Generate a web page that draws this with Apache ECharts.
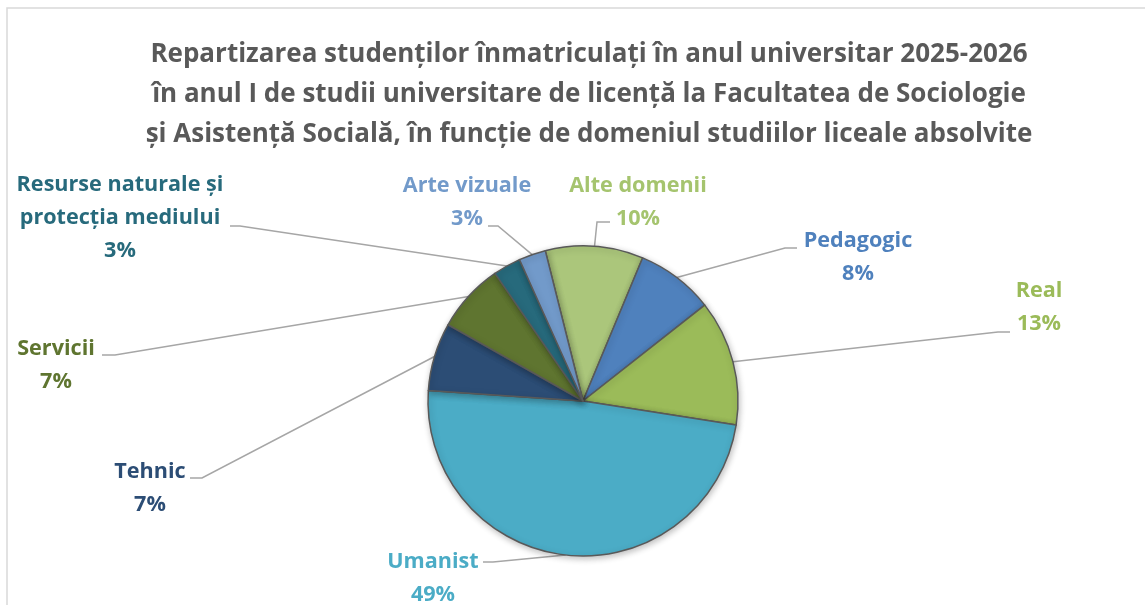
<!DOCTYPE html>
<html>
<head>
<meta charset="utf-8">
<script src="https://cdn.jsdelivr.net/npm/echarts@6/dist/echarts.min.js"></script>
<style>
  html, body { margin: 0; padding: 0; background: #fff; }
  #main { width: 1145px; height: 605px; }
</style>
</head>
<body>
<div id="main"></div>
<script>
  // categories, clockwise starting from the slice just left of 12 o'clock
  var categories = ['Alte domenii', 'Pedagogic', 'Real', 'Umanist', 'Tehnic', 'Servicii', 'Resurse naturale și\nprotecția mediului', 'Arte vizuale'];
  // share of enrolled students, percent
  var shares = [10.2, 8.1, 13.1, 48.6, 7.1, 7.2, 2.9, 2.8];
  var sliceColors = ['#ABC67B', '#4F81BD', '#9BBB59', '#4BACC6', '#2C4D75', '#5F7530', '#276A7C', '#729ACA'];
  var textColors = ['#A5C46E', '#4F81BD', '#9BBB59', '#4BACC6', '#2C4D75', '#5F7530', '#276A7C', '#729ACA'];

  // where the labels sit (block centre) and the knee / end of their leader lines
  var labelSpots = [
    { at: [638, 202], line: [[597, 222], [610, 222]] },
    { at: [858, 257], line: [[785, 248], [797, 248]] },
    { at: [1039, 307], line: [[998, 332], [1010, 332]] },
    { at: [433, 578], line: [[493, 562], [483, 562]] },
    { at: [150, 488], line: [[202, 478], [190, 478]] },
    { at: [56, 365], line: [[115, 355], [102, 355]] },
    { at: [120, 218], line: [[240, 226], [230, 226]] },
    { at: [467, 202], line: [[498, 226], [488, 226]] }
  ];

  var font = '"Open Sans", Lato, sans-serif';

  var pieData = categories.map(function (name, i) {
    return {
      name: name,
      value: shares[i],
      itemStyle: { color: sliceColors[i] },
      label: { color: textColors[i] }
    };
  });

  var myChart = echarts.init(document.getElementById('main'));
  myChart.setOption({
    backgroundColor: '#ffffff',
    animation: false,
    title: {
      text: 'Repartizarea studenților înmatriculați în anul universitar 2025-2026\nîn anul I de studii universitare de licență la Facultatea de Sociologie\nși Asistență Socială, în funcție de domeniul studiilor liceale absolvite',
      left: 584,
      top: 30,
      textAlign: 'center',
      textStyle: {
        fontFamily: font,
        fontWeight: 'bold',
        fontSize: 26,
        lineHeight: 40,
        color: '#595959'
      }
    },
    graphic: [{
      type: 'rect',
      shape: { x: 7, y: 8, width: 1300, height: 800 },
      style: { fill: 'none', stroke: '#D9D9D9', lineWidth: 1.5 },
      silent: true
    }],
    series: [{
      type: 'pie',
      center: [583, 401],
      radius: 155,
      startAngle: 104.1,
      clockwise: true,
      avoidLabelOverlap: false,
      data: pieData,
      itemStyle: {
        borderColor: '#595959',
        borderWidth: 1.5,
        shadowBlur: 6,
        shadowOffsetX: 1,
        shadowOffsetY: 2,
        shadowColor: 'rgba(0,0,0,0.25)'
      },
      label: {
        show: true,
        position: 'outside',
        fontFamily: font,
        fontWeight: 'bold',
        fontSize: 21.6,
        lineHeight: 33,
        align: 'center',
        formatter: function (p) {
          return p.name + '\n' + Math.round(p.percent) + '%';
        }
      },
      labelLine: {
        show: true,
        length: 10,
        length2: 10,
        lineStyle: { color: '#A6A6A6', width: 1.5 }
      },
      labelLayout: function (params) {
        var spot = labelSpots[params.dataIndex];
        var start = params.labelLinePoints ? params.labelLinePoints[0] : null;
        var out = {
          x: spot.at[0],
          y: spot.at[1],
          align: 'center',
          verticalAlign: 'middle'
        };
        if (start) {
          out.labelLinePoints = [start, spot.line[0], spot.line[1]];
        }
        return out;
      },
      emphasis: { disabled: true }
    }]
  });

  window.addEventListener('resize', function () { myChart.resize(); });
</script>
</body>
</html>
